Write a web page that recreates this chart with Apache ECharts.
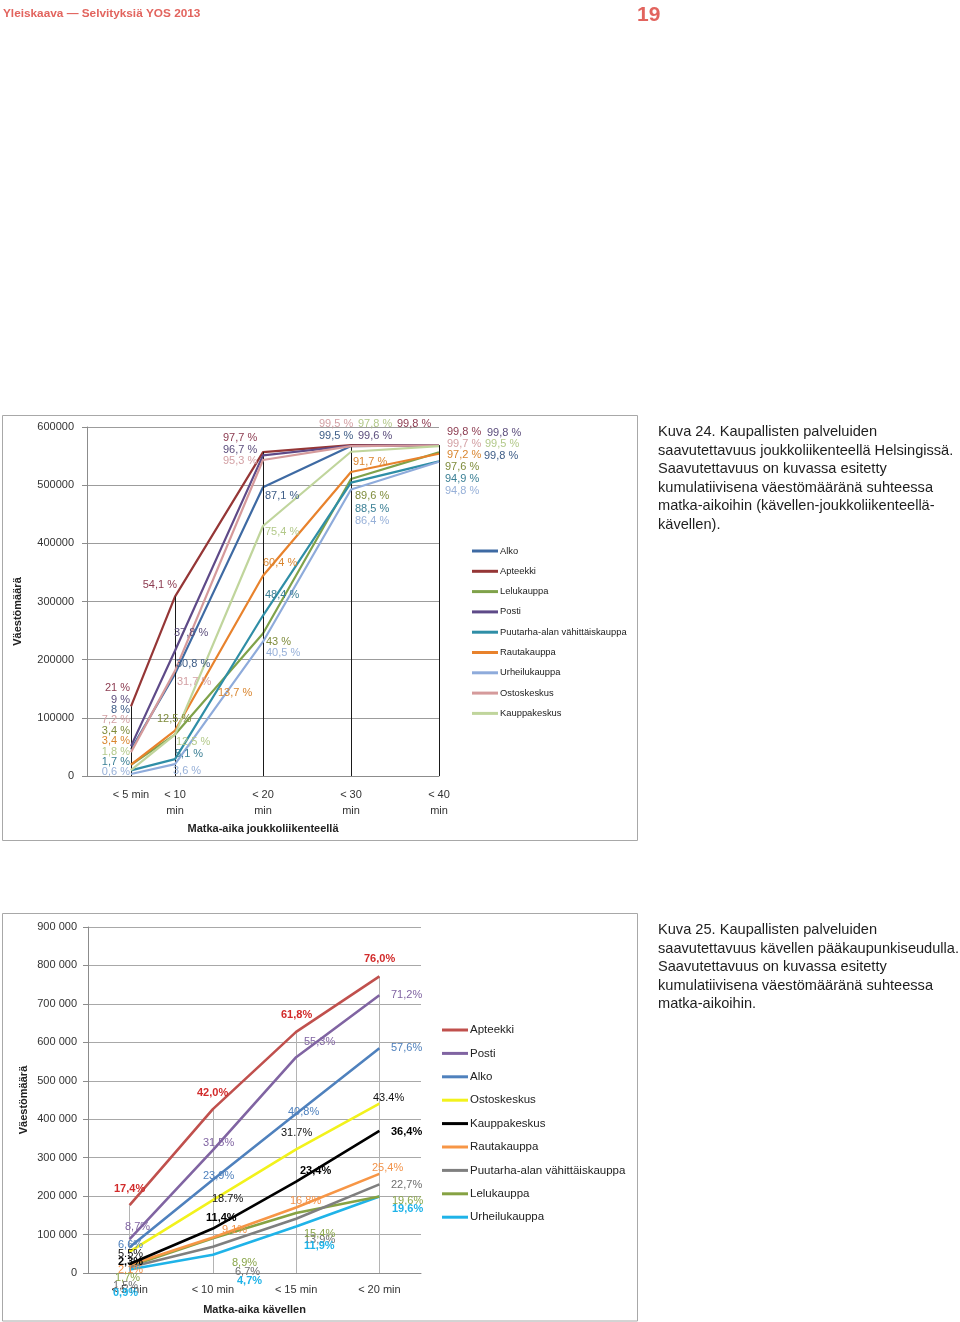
<!DOCTYPE html>
<html><head><meta charset="utf-8">
<script src="https://cdn.jsdelivr.net/npm/echarts/dist/echarts.min.js"></script>
<style>html,body{margin:0;padding:0;background:#fff;}#c{width:960px;height:1322px;}</style>
</head><body><div id="c"></div>
<script>
// ---------------- DATA ----------------
// Chart 1 (Kuva 24): travel time by public transport, Helsinki
const TOP_TIMES = [5, 10, 20, 30, 40];
const TOP_TICK_LABELS = {5: '< 5 min', 10: '< 10\nmin', 20: '< 20\nmin', 30: '< 30\nmin', 40: '< 40\nmin'};
const TOP_TOTAL = 570000; // population (100 %)
const TOP_NAMES = ['Alko', 'Apteekki', 'Lelukauppa', 'Posti', 'Puutarha-alan vähittäiskauppa', 'Rautakauppa', 'Urheilukauppa', 'Ostoskeskus', 'Kauppakeskus'];
const topAlko        = [8,   30.8, 87.1, 99.5, 99.8];
const topApteekki    = [21,  54.1, 97.7, 99.8, 99.8];
const topLelukauppa  = [3.4, 12.5, 43,   89.6, 97.6];
const topPosti       = [9,   37.8, 96.7, 99.6, 99.8];
const topPuutarha    = [1.7, 5.1,  48.4, 88.5, 94.9];
const topRautakauppa = [3.4, 13.7, 60.4, 91.7, 97.2];
const topUrheilu     = [0.6, 3.6,  40.5, 86.4, 94.8];
const topOstoskeskus = [7.2, 31.7, 95.3, 99.5, 99.7];
const topKauppakesk  = [1.8, 12.5, 75.4, 97.8, 99.5];
const TOP_VALUES = [topAlko, topApteekki, topLelukauppa, topPosti, topPuutarha, topRautakauppa, topUrheilu, topOstoskeskus, topKauppakesk];

// Chart 2 (Kuva 25): walking time, capital region
const BOT_CATS = ['< 5 min', '< 10 min', '< 15 min', '< 20 min'];
const BOT_TOTAL = 1015000; // population (100 %)
const BOT_NAMES = ['Apteekki', 'Posti', 'Alko', 'Ostoskeskus', 'Kauppakeskus', 'Rautakauppa', 'Puutarha-alan vähittäiskauppa', 'Lelukauppa', 'Urheilukauppa'];
const botApteekki    = [17.4, 42.0, 61.8, 76.0];
const botPosti       = [8.7,  31.5, 55.3, 71.2];
const botAlko        = [6.6,  23.9, 40.8, 57.6];
const botOstoskeskus = [5.5,  18.7, 31.7, 43.4];
const botKauppakesk  = [2.3,  11.4, 23.4, 36.4];
const botRautakauppa = [2.1,  9.1,  16.8, 25.4];
const botPuutarha    = [1.5,  6.7,  13.9, 22.7];
const botLelukauppa  = [1.7,  8.9,  15.4, 19.6];
const botUrheilu     = [0.9,  4.7,  11.9, 19.6];
const BOT_VALUES = [botApteekki, botPosti, botAlko, botOstoskeskus, botKauppakesk, botRautakauppa, botPuutarha, botLelukauppa, botUrheilu];

// ---------------- STYLES / LAYOUT ----------------
const TOP_COLORS = ['#3e6aa3', '#953636', '#7fa24a', '#5e4a88', '#2f8ea6', '#e8822c', '#8eabdb', '#d59a9b', '#c0d59c'];
const TOP_LABEL_COLORS = ['#3d5c86', '#8c3b50', '#7f8c3c', '#5b4d7c', '#3a7f94', '#d9852e', '#97b0d8', '#d3a0a4', '#b3c98a'];
// label anchor [x, y(center), align] per series per column
const TOP_LABEL_POS = [
  [[130,710,'right'],[176,664],[265,496],[319,436],[484,456]],
  [[130,688,'right'],[177,585,'right'],[223,438],[397,424],[447,432]],
  [[130,731,'right'],[157,719],[266,642],[355,496],[445,467]],
  [[130,700,'right'],[174,633],[223,450],[358,436],[487,433]],
  [[130,762,'right'],[175,754],[265,595],[355,509],[445,479]],
  [[130,741,'right'],[218,693],[263,563],[353,462],[447,455]],
  [[130,772,'right'],[173,771],[266,653],[355,521],[445,491]],
  [[130,720,'right'],[177,682],[223,461],[319,424],[447,444]],
  [[130,752,'right'],[176,742],[265,532],[358,424],[485,444]]
];
const BOT_COLORS = ['#c0504d', '#8064a2', '#4f81bd', '#f2f21c', '#000000', '#f79646', '#7f7f7f', '#86a243', '#1fb3e8'];
const BOT_LABEL_COLORS = ['#d22b2b', '#8064a2', '#4f81bd', '#111111', '#000000', '#f2934a', '#6f6f6f', '#8aa64a', '#1fb3e8'];
const BOT_LABEL_BOLD = [true, false, false, false, true, false, false, false, true];
const BOT_DEC_SEP = [',', ',', ',', '.', ',', ',', ',', ',', ','];
const BOT_LABEL_POS = [
  [[114,1189],[197,1093],[281,1015],[364,959]],
  [[125,1227],[203,1143],[304,1042],[391,995]],
  [[118,1245],[203,1176],[288,1112],[391,1048]],
  [[118,1254],[212,1199],[281,1133],[373,1098]],
  [[118,1262],[206,1218],[300,1171],[391,1132]],
  [[118,1270],[222,1230],[290,1201],[372,1168]],
  [[113,1286],[235,1272],[304,1240],[391,1185]],
  [[115,1278],[232,1263],[304,1234],[392,1201]],
  [[113,1293],[237,1281],[304,1246],[392,1209]]
];

const FONT = '"Liberation Sans", Arial, sans-serif';
const fmtTop = v => (Number.isInteger(v) ? String(v) : v.toFixed(1).replace('.', ',')) + ' %';
const fmtBot = (v, sep) => v.toFixed(1).replace('.', sep) + '%';
const fmtThousands = v => String(v).replace(/\B(?=(\d{3})+(?!\d))/g, ' ');

// ---------------- SERIES ----------------
const series = [];
// drop lines (from the highest point of each column down to the axis)
const topMax = TOP_TIMES.map((t, i) => Math.max(...TOP_VALUES.map(a => a[i])) / 100 * TOP_TOTAL);
series.push({
  type: 'line', xAxisIndex: 0, yAxisIndex: 0, data: [], silent: true, z: 1,
  markLine: { silent: true, symbol: 'none', label: {show: false},
    lineStyle: {color: '#1a1a1a', width: 1, type: 'solid'},
    data: TOP_TIMES.map((t, i) => [{coord: [t, topMax[i]]}, {coord: [t, 0]}]) }
});
const botMax = BOT_CATS.map((c, i) => Math.max(...BOT_VALUES.map(a => a[i])) / 100 * BOT_TOTAL);
series.push({
  type: 'line', xAxisIndex: 1, yAxisIndex: 1, data: [], silent: true, z: 1,
  markLine: { silent: true, symbol: 'none', label: {show: false},
    lineStyle: {color: '#b4b4b4', width: 1, type: 'solid'},
    data: BOT_CATS.map((c, i) => [{coord: [i, botMax[i]]}, {coord: [i, 0]}]) }
});
TOP_NAMES.forEach((n, k) => {
  series.push({
    name: n, type: 'line', xAxisIndex: 0, yAxisIndex: 0, z: 2 + k,
    symbol: 'none', color: TOP_COLORS[k],
    lineStyle: {color: TOP_COLORS[k], width: 2.2},
    itemStyle: {color: TOP_COLORS[k]},
    data: TOP_TIMES.map((t, i) => [t, TOP_VALUES[k][i] / 100 * TOP_TOTAL])
  });
});
BOT_NAMES.forEach((n, k) => {
  series.push({
    name: n + '#2', type: 'line', xAxisIndex: 1, yAxisIndex: 1, z: 20 - k,
    symbol: 'none', color: BOT_COLORS[k],
    lineStyle: {color: BOT_COLORS[k], width: 2.6},
    itemStyle: {color: BOT_COLORS[k]},
    data: BOT_VALUES[k].map(v => v / 100 * BOT_TOTAL)
  });
});

// ---------------- GRAPHIC TEXTS ----------------
const graphic = [];
graphic.push({type: 'rect', shape: {x: 2.5, y: 415.5, width: 635, height: 425}, style: {fill: 'none', stroke: '#a8a8a8', lineWidth: 1}, z: 0});
graphic.push({type: 'rect', shape: {x: 2.5, y: 913.5, width: 635, height: 407.5}, style: {fill: 'none', stroke: '#a8a8a8', lineWidth: 1}, z: 0});
graphic.push({type: 'text', x: 3, y: 14, style: {text: 'Yleiskaava — Selvityksiä YOS 2013', fill: '#e2645e', font: 'bold 11.8px ' + FONT, textVerticalAlign: 'middle'}});
graphic.push({type: 'text', x: 637, y: 15, style: {text: '19', fill: '#e2645e', font: 'bold 21px ' + FONT, textVerticalAlign: 'middle'}});
graphic.push({type: 'text', x: 658, y: 423, style: {
  text: 'Kuva 24. Kaupallisten palveluiden\nsaavutettavuus joukkoliikenteellä Helsingissä.\nSaavutettavuus on kuvassa esitetty\nkumulatiivisena väestömääränä suhteessa\nmatka-aikoihin (kävellen-joukkoliikenteellä-\nkävellen).',
  fill: '#1e1e1e', font: '14.6px ' + FONT, lineHeight: 18.5, textVerticalAlign: 'top'}});
graphic.push({type: 'text', x: 658, y: 921, style: {
  text: 'Kuva 25. Kaupallisten palveluiden\nsaavutettavuus kävellen pääkaupunkiseudulla.\nSaavutettavuus on kuvassa esitetty\nkumulatiivisena väestömääränä suhteessa\nmatka-aikoihin.',
  fill: '#1e1e1e', font: '14.6px ' + FONT, lineHeight: 18.5, textVerticalAlign: 'top'}});
TOP_NAMES.forEach((n, k) => {
  TOP_TIMES.forEach((t, i) => {
    const p = TOP_LABEL_POS[k][i];
    graphic.push({type: 'text', x: p[0], y: p[1], z: 50, style: {
      text: fmtTop(TOP_VALUES[k][i]), fill: TOP_LABEL_COLORS[k], font: '11px ' + FONT,
      textAlign: p[2] || 'left', textVerticalAlign: 'middle'}});
  });
});
BOT_NAMES.forEach((n, k) => {
  BOT_CATS.forEach((c, i) => {
    const p = BOT_LABEL_POS[k][i];
    graphic.push({type: 'text', x: p[0], y: p[1], z: 50, style: {
      text: fmtBot(BOT_VALUES[k][i], BOT_DEC_SEP[k]), fill: BOT_LABEL_COLORS[k],
      font: (BOT_LABEL_BOLD[k] ? 'bold ' : '') + '11px ' + FONT,
      textAlign: 'left', textVerticalAlign: 'middle'}});
  });
});

// ---------------- OPTION ----------------
const axisNameStyle = {fontFamily: FONT, fontWeight: 'bold', fontSize: 11, color: '#222'};
const option = {
  backgroundColor: '#ffffff',
  animation: false,
  textStyle: {fontFamily: FONT},
  grid: [
    {left: 87, top: 427, width: 352, height: 349},
    {left: 88, top: 927, width: 333, height: 346}
  ],
  xAxis: [
    {type: 'value', gridIndex: 0, min: 0, max: 40, interval: 5,
     name: 'Matka-aika joukkoliikenteellä', nameLocation: 'middle', nameGap: 47, nameTextStyle: axisNameStyle,
     axisLine: {show: true, lineStyle: {color: '#8c8c8c'}}, axisTick: {show: false}, splitLine: {show: false},
     axisLabel: {fontSize: 11, color: '#333', lineHeight: 16, margin: 11, showMinLabel: true, showMaxLabel: true,
       formatter: v => TOP_TICK_LABELS[v] || ''}},
    {type: 'category', gridIndex: 1, data: BOT_CATS, boundaryGap: true,
     name: 'Matka-aika kävellen', nameLocation: 'middle', nameGap: 31, nameTextStyle: axisNameStyle,
     axisLine: {show: true, lineStyle: {color: '#8c8c8c'}}, axisTick: {show: false}, splitLine: {show: false},
     axisLabel: {fontSize: 11, color: '#333', margin: 11, interval: 0}}
  ],
  yAxis: [
    {type: 'value', gridIndex: 0, min: 0, max: 600000, interval: 100000,
     name: 'Väestömäärä', nameLocation: 'middle', nameGap: 64, nameRotate: 90,
     nameTextStyle: Object.assign({}, axisNameStyle, {padding: [0, 0, 0, -20]}),
     axisLine: {show: true, lineStyle: {color: '#8c8c8c'}},
     axisTick: {show: true, length: 5, lineStyle: {color: '#8c8c8c'}},
     splitLine: {show: true, lineStyle: {color: '#9c9c9c', width: 1}},
     axisLabel: {fontSize: 11, color: '#333', margin: 13, formatter: v => String(v)}},
    {type: 'value', gridIndex: 1, min: 0, max: 900000, interval: 100000,
     name: 'Väestömäärä', nameLocation: 'middle', nameGap: 59, nameRotate: 90, nameTextStyle: axisNameStyle,
     axisLine: {show: true, lineStyle: {color: '#8c8c8c'}},
     axisTick: {show: true, length: 5, lineStyle: {color: '#8c8c8c'}},
     splitLine: {show: true, lineStyle: {color: '#a8a8a8', width: 1}},
     axisLabel: {fontSize: 11, color: '#333', margin: 11, formatter: v => fmtThousands(v)}}
  ],
  legend: [
    {data: TOP_NAMES, orient: 'vertical', left: 467, top: 540, icon: 'rect',
     itemWidth: 26, itemHeight: 3, itemGap: 8.3, selectedMode: false,
     textStyle: {fontSize: 9.4, lineHeight: 12, color: '#222', fontFamily: FONT, padding: [0, 0, 0, -3]}},
    {data: BOT_NAMES.map(n => n + '#2'), orient: 'vertical', left: 437, top: 1018, icon: 'rect',
     itemWidth: 26, itemHeight: 3, itemGap: 9.4, selectedMode: false,
     formatter: n => n.replace('#2', ''),
     textStyle: {fontSize: 11.5, lineHeight: 14, color: '#222', fontFamily: FONT, padding: [0, 0, 0, -3]}}
  ],
  series: series,
  graphic: graphic
};
const chart = echarts.init(document.getElementById('c'));
chart.setOption(option);
</script></body></html>
